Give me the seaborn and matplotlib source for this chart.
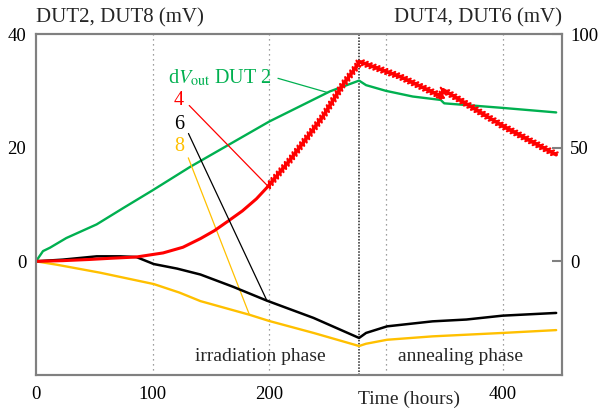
import matplotlib
matplotlib.use("Agg")
import numpy as np
import pandas as pd
import seaborn as sns
import matplotlib.pyplot as plt
from matplotlib import patheffects
from matplotlib.transforms import blended_transform_factory

# --- measured drift of the output voltage (mV) versus time (hours) ---
hours_dut2 = [0, 3, 6, 12, 26, 52, 75, 100, 132, 200, 252, 277, 283, 300, 323, 347, 350, 400, 446]
dut2_mv = [0, 0.9, 1.8, 2.4, 4.1, 6.5, 9.4, 12.5, 16.6, 24.6, 29.9, 31.8, 31.0, 30.0, 29.0, 28.4, 27.8, 27.0, 26.2]

hours_dut4 = [0, 23, 45, 66, 86, 109, 126, 141, 153, 165, 177, 189, 199, 218, 246, 263, 276, 277,
              312, 345, 347, 349, 400, 446]
dut4_mv = [0, 0.3, 0.8, 1.4, 1.9, 3.7, 6.2, 10.0, 13.5, 17.8, 22.2, 27.5, 33.0, 44.7, 63.7, 77.6, 86.5, 87.9,
           81.3, 73.2, 71.8, 75.5, 59.6, 46.9]

hours_dut6 = [0, 23, 52, 72, 86, 101, 121, 141, 169, 198, 238, 277, 283, 301, 340, 369, 400, 446]
dut6_mv = [0, 0.75, 2.2, 2.2, 1.9, -1.2, -3.2, -5.8, -11.2, -17.3, -24.9, -33.7, -31.5, -28.6,
           -26.4, -25.6, -23.9, -22.7]

hours_dut8 = [0, 18, 55, 101, 123, 141, 183, 200, 238, 277, 283, 301, 340, 400, 446]
dut8_mv = [0, -0.6, -2.0, -4.0, -5.5, -7.0, -9.4, -10.5, -12.6, -14.9, -14.5, -13.8, -13.2, -12.6, -12.1]

phase_end_hours = 277
x_ticks = [0, 100, 200, 400]
left_ticks = [0, 20, 40]
right_ticks = [0, 50, 100]

GREEN = "#00B050"
RED = "#FF0000"
BLACK = "#000000"
ORANGE = "#FFC000"
GRAY = "#808080"

sns.set_style("white")
plt.rcParams["font.family"] = ["Liberation Serif", "DejaVu Serif"]
plt.rcParams["mathtext.fontset"] = "stix"

fig = plt.figure(figsize=(6.02, 4.12), dpi=100)
ax = fig.add_axes([36 / 602, 1 - 375 / 412, 526 / 602, 341 / 412])
ax2 = ax.twinx()

ax.set_xlim(0, 451)
ax.set_ylim(-20, 40)
ax2.set_ylim(-50, 100)

# vertical dotted grid and the end of irradiation
for t in [100, 200, 300, 400]:
    ax.axvline(t, color=GRAY, lw=0.9, ls=(0, (1, 3)), zorder=0)
ax.axvline(phase_end_hours, color="#222222", lw=1.1, ls=(0, (1, 1)), zorder=0)

df2 = pd.DataFrame({"h": hours_dut2, "mv": dut2_mv})
df4 = pd.DataFrame({"h": hours_dut4, "mv": dut4_mv})
df6 = pd.DataFrame({"h": hours_dut6, "mv": dut6_mv})
df8 = pd.DataFrame({"h": hours_dut8, "mv": dut8_mv})

line_kw = dict(estimator=None, solid_joinstyle="round", solid_capstyle="round")
sns.lineplot(data=df2, x="h", y="mv", ax=ax, color=GREEN, lw=1.7, **line_kw)
sns.lineplot(data=df8, x="h", y="mv", ax=ax, color=ORANGE, lw=1.7, **line_kw)
sns.lineplot(data=df6, x="h", y="mv", ax=ax2, color=BLACK, lw=1.8, **line_kw)

# DUT4: smooth early part, serrated (noisy readout) from 200 h onwards
smooth = df4[df4["h"] <= 199]
rough = df4[df4["h"] >= 199]
sns.lineplot(data=smooth, x="h", y="mv", ax=ax2, color=RED, lw=2.2, **line_kw)
sns.lineplot(data=rough, x="h", y="mv", ax=ax2, color=RED, lw=2.6, **line_kw,
             path_effects=[patheffects.Normal(),
                           patheffects.TickedStroke(spacing=3.0, angle=50, length=0.85, linewidth=1.6),
                           patheffects.TickedStroke(spacing=3.0, angle=-130, length=0.85, linewidth=1.6)])

for a in (ax, ax2):
    a.set_xlabel("")
    a.set_ylabel("")
    for s in a.spines.values():
        s.set_color(GRAY)
        s.set_linewidth(1.5)

ax.set_xticks(x_ticks)
ax.set_xticklabels([str(v) for v in x_ticks])
ax.set_yticks(left_ticks)
ax.set_yticklabels([str(v) for v in left_ticks])
ax.tick_params(axis="both", length=0, labelsize=13.5, colors="black", pad=7)
ax.tick_params(axis="x", pad=8)
ax2.set_yticks(right_ticks)
ax2.set_yticklabels([str(v) for v in right_ticks])
ax2.tick_params(axis="y", direction="in", length=7, width=1.5, color=GRAY,
                labelsize=13.5, labelcolor="black", pad=6)

# axis titles above the plot
ax.text(0, 1.033, "DUT2, DUT8 (mV)", transform=ax.transAxes, ha="left", va="baseline", fontsize=15)
ax.text(1, 1.033, "DUT4, DUT6 (mV)", transform=ax.transAxes, ha="right", va="baseline", fontsize=15)

xt = blended_transform_factory(ax.transData, ax.transAxes)
ax.text(320, -0.045, "Time (hours)", transform=xt, ha="center", va="top", fontsize=14)

# phase labels
ax.text(192, -16.7, "irradiation phase", ha="center", va="center", fontsize=14)
ax.text(364, -16.7, "annealing phase", ha="center", va="center", fontsize=14)

# series labels with leader lines
def label(axis, text, color, hours, values, at, pos, rel):
    axis.annotate(text, xy=(at, np.interp(at, hours, values)), xycoords="data",
                  xytext=pos, textcoords="axes fraction", ha="right", va="center",
                  color=color, fontsize=14.5,
                  arrowprops=dict(arrowstyle="-", color=color, lw=0.9,
                                  shrinkA=2, shrinkB=0, relpos=rel))

label(ax, "d$V_{\\mathrm{out}}$ DUT 2", GREEN, hours_dut2, dut2_mv, 250, (0.4487, 0.872), (1, 0.55))
label(ax2, "4", RED, hours_dut4, dut4_mv, 199, (0.2814, 0.806), (1, 0.5))
label(ax2, "6", BLACK, hours_dut6, dut6_mv, 198, (0.2814, 0.736), (1, 0.5))
label(ax, "8", ORANGE, hours_dut8, dut8_mv, 183, (0.2814, 0.669), (1, 0.5))

fig.savefig("out.png", dpi=100)
